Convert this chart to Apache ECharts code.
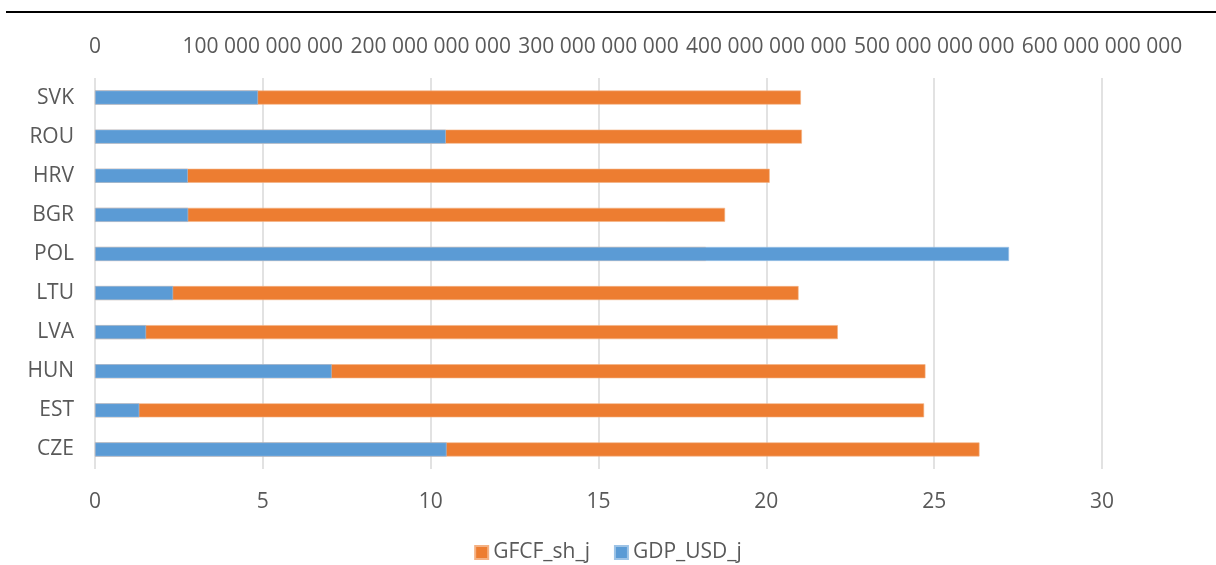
<!DOCTYPE html>
<html>
<head>
<meta charset="utf-8">
<title>GFCF share and GDP</title>
<script src="https://cdn.jsdelivr.net/npm/echarts@6/dist/echarts.min.js"></script>
<style>
  html, body { margin: 0; padding: 0; background: #ffffff; }
  #chart { width: 1216px; height: 565px; }
</style>
</head>
<body>
<div id="chart"></div>
<script>
// Countries, listed from the bottom row of the chart to the top row
const countries = ['CZE', 'EST', 'HUN', 'LVA', 'LTU', 'POL', 'BGR', 'HRV', 'ROU', 'SVK'];

// Gross fixed capital formation share (bottom axis)
const gfcfShare = [26.35, 24.70, 24.74, 22.13, 20.96, 18.20, 18.77, 20.10, 21.06, 21.03];

// GDP in USD (top axis)
const gdpUsd = [209.5e9, 26.4e9, 141.0e9, 30.4e9, 46.5e9, 544.6e9, 55.5e9, 55.3e9, 209.0e9, 97.1e9];

const gfcfName = 'GFCF_sh_j';
const gdpName = 'GDP_USD_j';

const textColor = '#595959';
const fontFamily = '"Open Sans", "Liberation Sans", sans-serif';

function spaced(v) {
  return String(Math.round(v)).replace(/\B(?=(\d{3})+(?!\d))/g, ' ');
}

const chart = echarts.init(document.getElementById('chart'), null, { renderer: 'canvas' });

chart.setOption({
  backgroundColor: '#ffffff',
  animation: false,
  textStyle: { fontFamily: fontFamily },
  graphic: [{
    type: 'line',
    shape: { x1: 6, y1: 12, x2: 1216, y2: 12 },
    style: { stroke: '#000000', lineWidth: 2 }
  }],
  grid: { left: 95, right: 114, top: 78, bottom: 96, containLabel: false },
  legend: {
    data: [gfcfName, gdpName],
    top: 537,
    left: 'center',
    itemWidth: 13,
    itemHeight: 13,
    itemGap: 24,
    icon: 'rect',
    textStyle: { color: textColor, fontSize: 21, fontFamily: fontFamily }
  },
  xAxis: [{
    type: 'value',
    position: 'bottom',
    min: 0, max: 30, interval: 5,
    axisLine: { show: false },
    axisTick: { show: false },
    axisLabel: { color: textColor, fontSize: 21, margin: 23 },
    splitLine: { show: true, lineStyle: { color: '#d9d9d9', width: 1.5 } }
  }, {
    type: 'value',
    position: 'top',
    min: 0, max: 600e9, interval: 100e9,
    axisLine: { show: false },
    axisTick: { show: false },
    splitLine: { show: false },
    axisLabel: {
      color: textColor, fontSize: 21, margin: 20,
      hideOverlap: false,
      formatter: spaced
    }
  }],
  yAxis: {
    type: 'category',
    data: countries,
    axisLine: { show: false },
    axisTick: { show: false },
    axisLabel: { color: textColor, fontSize: 21, margin: 21 }
  },
  series: [{
    name: gfcfName,
    type: 'bar',
    xAxisIndex: 0,
    data: gfcfShare,
    barWidth: 14,
    barGap: '-100%',
    itemStyle: { color: '#ED7D31', borderColor: '#f4b183', borderWidth: 0.6 }
  }, {
    name: gdpName,
    type: 'bar',
    xAxisIndex: 1,
    data: gdpUsd,
    barWidth: 14,
    barGap: '-100%',
    itemStyle: { color: '#5B9BD5', borderColor: '#9dc3e6', borderWidth: 0.6 }
  }]
});
</script>
</body>
</html>
